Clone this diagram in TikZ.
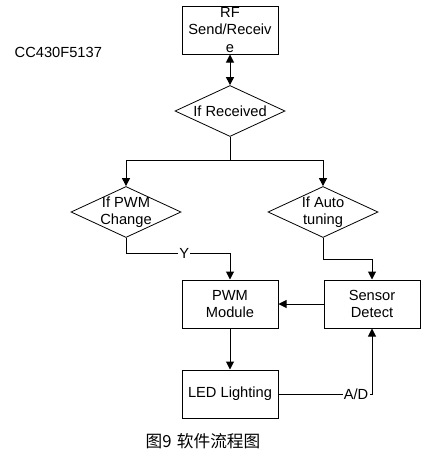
\documentclass[tikz,border=0pt]{standalone}
\usepackage{fontspec}
\setmainfont{Liberation Sans}
\newfontfamily\cjk{Noto Sans CJK SC}
\usetikzlibrary{shapes.geometric,arrows.meta}
\begin{document}
\begin{tikzpicture}[x=0.75pt,y=-0.75pt,
  every node/.style={font=\fontsize{11}{13}\selectfont},
  boxnode/.style={draw,line width=0.75pt,minimum width=72pt,minimum height=36pt,inner sep=0pt,align=center},
  decis/.style={draw,line width=0.6pt,diamond,minimum width=82.5pt,minimum height=38.25pt,inner sep=0pt},
  conn/.style={line width=0.75pt},
  arr/.style={conn,-{Triangle[length=6pt,width=6pt]}},
  lbl/.style={fill=white,inner sep=1pt}]
\useasboundingbox (0,0) rectangle (427,464);
\node[boxnode] (rf) at (230,30) {RF\\Send/Receiv\\e};
\node[anchor=west] (chip) at (10,52) {CC430F5137};
\node[decis,label={center:If Received}] (rec) at (230,111) {};
\node[decis,label={[align=center]center:If PWM\\Change}] (pwmd) at (126,212) {};
\node[decis,label={[align=center]center:If Auto\\tuning}] (autod) at (323,212) {};
\node[boxnode] (pwm) at (230,304) {PWM\\Module};
\node[boxnode] (sens) at (372,304) {Sensor\\Detect};
\node[boxnode] (led) at (230,394) {LED Lighting};
\coordinate (j) at (230,160);
\coordinate (c1) at (230,253);
\coordinate (c2) at (372,259);
\draw[conn,{Triangle[length=6pt,width=6pt]}-{Triangle[length=6pt,width=6pt]}] (rf.south) -- (rec.north);
\draw[conn] (rec.south) -- (j);
\draw[arr] (j) -| (pwmd.north);
\draw[arr] (j) -| (autod.north);
\draw[arr] (pwmd.south) |- node[lbl,pos=0.78] (y) {Y} (c1) -- (pwm.north);
\draw[arr] (autod.south) |- (c2) -- (sens.north);
\draw[arr] (sens.west) -- (pwm.east);
\draw[arr] (pwm.south) -- (led.north);
\draw[arr] (led.east) -- node[lbl,pos=0.83] (ad) {A/D} (led.east -| sens.south) -- (sens.south);
\node[font=\fontsize{12.5}{14}\selectfont] (cap) at (203,441) {\cjk 图9\hspace{4pt}软件流程图};
\end{tikzpicture}
\end{document}
